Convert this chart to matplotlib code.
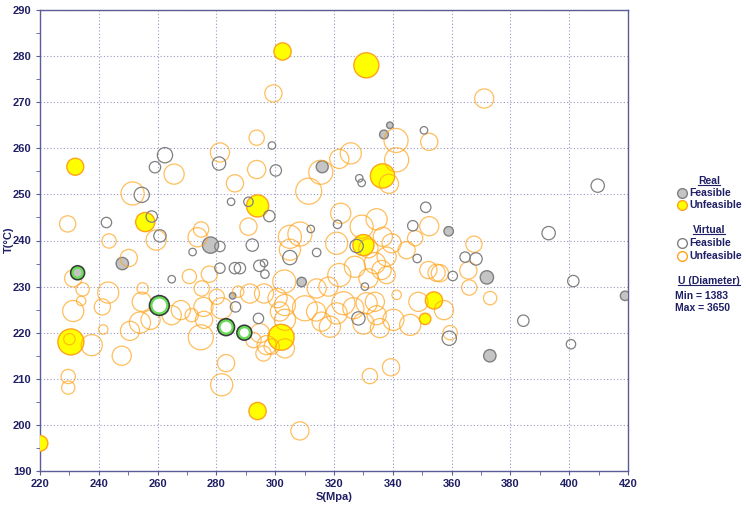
import matplotlib
matplotlib.use('Agg')
import matplotlib.pyplot as plt
from matplotlib.lines import Line2D
import numpy as np

# ---- data: S (MPa), T (degC), U (drawn as diameter) ----
u_min, u_max = 1383, 3650

# real, unfeasible (yellow)
ru_s = [220, 232, 230.5, 255.8, 302.5, 331, 294, 336.5, 330, 302, 294, 354, 351]
ru_t = [196, 256, 218, 244, 281, 278, 247.5, 254, 239, 219, 203, 227, 223]
ru_u = [2450, 2600, 3650, 2856, 2630, 3537, 3200, 3450, 3083, 3650, 2630, 2630, 1950]

# real, feasible (gray)
rf_s = [248, 278, 285.5, 309, 316, 337, 339, 359, 372, 373, 419]
rf_t = [235, 239, 228, 231, 256, 263, 265, 242, 232, 215, 228]
rf_u = [2063, 2516, 1383, 1723, 2020, 1650, 1383, 1723, 2176, 2063, 1723]

# virtual, feasible (gray ring)
vf_s = [262.5, 259.1, 280.9, 285, 254.6, 258, 242.6, 260.8, 281.2, 271.9,
        298.9, 300.2, 328.6, 329.4, 350.6, 290.9, 298, 292.2, 312.1, 321.2,
        314.1, 327.7, 346.8, 351.2, 348.3, 409.7, 393, 364.6, 368.3, 360.4,
        401.4, 384.4, 359.2, 400.6, 305, 294.6, 296.2, 296.5, 288, 330.5,
        328.3, 294.3, 281.2, 286.3, 264.8, 286.5]
vf_t = [258.5, 255.9, 256.7, 248.4, 249.9, 245.2, 243.9, 241, 238.7, 237.5,
        260.6, 255.2, 253.5, 252.5, 263.9, 248.4, 245.3, 239, 242.5, 243.5,
        237.4, 238.8, 243.2, 247.2, 236.1, 251.9, 241.6, 236.4, 236, 232.3,
        231.2, 222.6, 218.8, 217.5, 236.3, 234.5, 235.1, 232.7, 234, 230,
        223.1, 223.1, 234, 234, 231.6, 225.6]
vf_u = [2403, 1950, 2176, 1496, 2403, 1950, 1836, 2063, 1836, 1496,
        1496, 1950, 1496, 1496, 1496, 1723, 1950, 2063, 1496, 1610,
        1610, 2176, 1836, 1836, 1610, 2176, 2176, 1836, 2063, 1723,
        1950, 1950, 2290, 1723, 2290, 1950, 1496, 1610, 1950, 1496,
        2176, 1836, 1836, 1950, 1496, 1836]

# virtual, unfeasible (orange ring)
vu_s = [229.4, 251.5, 265.6, 281.2, 286.3, 243.5, 259.5, 274.8, 273.6, 250.2,
        231.3, 234.5, 234, 231.3, 243.2, 241.2, 241.5, 230, 237.6, 247.8,
        229.6, 229.6, 254.9, 254.6, 250.6, 254, 257.6, 264.8, 267.9, 271.6,
        275.6, 270.8, 277.6, 275, 280.1, 281.8, 275.8, 274.7, 283.3, 281.8,
        287.4, 291.4, 296.2,
        299.4, 293.7, 293.7, 321.8, 325.7, 315.5, 311.4, 341.1, 352.4, 341.3,
        338.7, 371.1, 290.9, 305, 308.4, 305, 322.3, 329.4, 334.5, 336.6,
        339.6, 344.7, 352.4, 347.6, 320.9, 331.7, 337.9, 367.6,
        365.7, 366, 373.1, 357.4, 359.5, 356, 352.1, 354.9, 348.7, 341.3,
        303.1, 300.8, 303.3, 301.6, 303.3, 310.1, 314.1, 318.1, 321.8, 327.1,
        333.9, 336.2, 331.7, 337.9, 323.2, 320.9, 326.6, 331.1, 333.9, 334.5,
        330, 335.6, 340.2, 345.9, 318.6, 315.8, 313.9, 297.1, 303.3, 294.8,
        298.8, 296, 332.2, 339.4, 308.4, 292.6]
vu_t = [243.6, 250.2, 254.4, 259.1, 252.4, 239.9, 240.1, 242.4, 240.7, 236.2,
        231.8, 229.4, 226.9, 224.7, 228.7, 225.6, 220.7, 218.6, 217.3, 215,
        210.5, 208.1, 229.6, 226.7, 220.4, 222.2, 222.8, 223.8, 224.9, 223.8,
        225.6, 232.2, 232.7, 229.6, 227.8, 225.3, 222.8, 219, 213.4, 208.7,
        228.9, 228.5, 228.5,
        271.9, 262.3, 255.4, 257.7, 258.9, 254.8, 250.7, 261.7, 261.4, 257.5,
        252.3, 270.8, 243, 240.8, 241.4, 238, 245.9, 243, 244.6, 240.8,
        239.4, 237.9, 243.1, 240.5, 239.4, 238.3, 236.5, 239.2,
        233.5, 229.8, 227.5, 224.9, 220, 232.9, 233.6, 233, 226.7, 228.2,
        231.1, 227.5, 226, 224.6, 222.8, 225.3, 229.6, 230, 232.5, 234.3,
        235.1, 233.6, 231.8, 232.5, 226.4, 224.2, 225.3, 226.4, 226.7, 223.8,
        222, 221, 222.8, 221.7, 221.3, 222.4, 224.6, 217.3, 216.6, 219.9,
        217, 215.5, 210.6, 212.5, 198.7, 218.4]
vu_u = [2516, 3310, 2970, 2856, 2630, 2290, 2970, 2403, 2856, 2630,
        2630, 2176, 1723, 3083, 3083, 2516, 1723, 1950, 3083, 2856,
        2290, 2176, 1950, 2856, 2856, 3083, 2856, 2856, 2856, 2176,
        2856, 2290, 2516, 2403, 2403, 3083, 2630, 3537, 2630, 3197,
        1950, 2856, 2856,
        2630, 2403, 2743, 2856, 3083, 3423, 3650, 3423, 2630, 3423,
        2856, 2856, 2630, 3310, 3423, 3083, 2970, 3310, 3083, 2856,
        2856, 2630, 2856, 2403, 3197, 2856, 2856, 2516,
        2630, 2403, 2176, 2856, 2290, 2630, 2630, 2630, 2856, 1723,
        3310, 2856, 3083, 2856, 3083, 3537, 2856, 2856, 3310, 3083,
        3083, 2856, 2856, 2630, 3310, 3083, 3083, 3083, 2856, 2856,
        3083, 2856, 3083, 3083, 3083, 2856, 2856, 2856, 2856, 2856,
        2403, 2403, 2403, 2630, 2743, 2403]

# highlighted points (dark ring + green ring)
hl_s = [232.8, 260.6, 283.3, 289.5]
hl_t = [233, 225.9, 221.2, 220]
hl_u = [2176, 2856, 2516, 2290]
hl_real = [True, False, False, False]

navy = '#1f1f66'
orange = '#FFA31A'
gray_edge = '#808080'


def msize(u, shrink=0.0):
    # U -> diameter in px, then to points^2 at 100 dpi
    d = 6.5 + (np.asarray(u, float) - u_min) / (u_max - u_min) * 19.5 - shrink
    return (d * 0.72) ** 2


plt.rcParams['font.family'] = ['Liberation Sans', 'DejaVu Sans']

fig = plt.figure(figsize=(7.46, 5.09), dpi=100)
ax = fig.add_axes([40 / 746, 1 - 471 / 509, 588 / 746, 461 / 509])

# real first, virtual on top
ax.scatter(ru_s, ru_t, s=msize(ru_u), facecolor='#FFFF00', edgecolor=orange,
           linewidth=1.0, zorder=3)
ax.scatter(rf_s, rf_t, s=msize(rf_u), facecolor='#C4C4C4', edgecolor=gray_edge,
           linewidth=1.0, zorder=3)
ax.scatter(vu_s, vu_t, s=msize(vu_u), facecolor='none', edgecolor=orange,
           linewidth=0.9, alpha=0.7, zorder=4)
ax.scatter(vf_s, vf_t, s=msize(vf_u), facecolor='none', edgecolor=gray_edge,
           linewidth=0.9, zorder=4)

hl_face = ['#C4C4C4' if r else 'white' for r in hl_real]
ax.scatter(hl_s, hl_t, s=msize(hl_u), facecolor=hl_face, edgecolor='#3a3a3a',
           linewidth=1.6, zorder=5)
ax.scatter(hl_s, hl_t, s=msize(hl_u, shrink=3.2), facecolor='none',
           edgecolor='#66DD55', linewidth=1.6, zorder=6)

ax.set_xlim(220, 420)
ax.set_ylim(190, 290)
ax.set_xticks(np.arange(220, 421, 20))
ax.set_xticks(np.arange(230, 420, 20), minor=True)
ax.set_yticks(np.arange(190, 291, 10))
ax.set_yticks(np.arange(195, 290, 10), minor=True)

ax.grid(True, which='major', linestyle=(0, (1, 2)), color='#9a9ac4',
        linewidth=0.8, zorder=0)
ax.set_axisbelow(True)
for sp in ax.spines.values():
    sp.set_color('#5c5c98')
    sp.set_linewidth(1.0)

ax.tick_params(which='both', direction='out', colors='#5c5c98',
               labelcolor=navy, labelsize=8)
ax.tick_params(which='major', length=3, pad=3)
ax.tick_params(which='minor', length=3)
for lab in ax.get_xticklabels() + ax.get_yticklabels():
    lab.set_fontweight('bold')

ax.set_xlabel('S(Mpa)', fontsize=8, fontweight='bold', color=navy, labelpad=2)

# ---- outside texts in pixel positions ----
W, H = 746, 509


def fx(px):
    return px / W


def fy(py):
    return 1 - py / H


fig.text(fx(9), fy(240), 'T(°C)', rotation=90, ha='center', va='center',
         fontsize=8, fontweight='bold', color=navy)

heads = []
heads.append(fig.text(fx(709), fy(181), 'Real', ha='center', va='center',
                      fontsize=7.5, fontweight='bold', color=navy))
heads.append(fig.text(fx(709), fy(230), 'Virtual', ha='center', va='center',
                      fontsize=7.5, fontweight='bold', color=navy))
heads.append(fig.text(fx(709), fy(281), 'U (Diameter)', ha='center', va='center',
                      fontsize=7.5, fontweight='bold', color=navy))

legend_rows = [
    (193, '#C4C4C4', gray_edge, 'Feasible'),
    (205, '#FFFF00', orange, 'Unfeasible'),
    (243, 'white', gray_edge, 'Feasible'),
    (256, 'white', orange, 'Unfeasible'),
]
for py, fc, ec, txt in legend_rows:
    fig.add_artist(Line2D([fx(682)], [fy(py)], marker='o', markersize=7,
                          markerfacecolor=fc, markeredgecolor=ec,
                          markeredgewidth=1.0, linestyle='none'))
    fig.text(fx(689), fy(py), txt, ha='left', va='center', fontsize=7.5,
             fontweight='bold', color=navy)

fig.text(fx(675), fy(296), 'Min = %d' % u_min, ha='left', va='center',
         fontsize=7.5, fontweight='bold', color=navy)
fig.text(fx(675), fy(308), 'Max = %d' % u_max, ha='left', va='center',
         fontsize=7.5, fontweight='bold', color=navy)

# underline the legend headings
fig.canvas.draw()
r = fig.canvas.get_renderer()
for t in heads:
    bb = t.get_window_extent(r)
    yline = bb.y0 + 1
    fig.add_artist(Line2D([bb.x0 / W, bb.x1 / W], [yline / H, yline / H],
                          color=navy, linewidth=0.8))

fig.savefig('out.png', dpi=100)
